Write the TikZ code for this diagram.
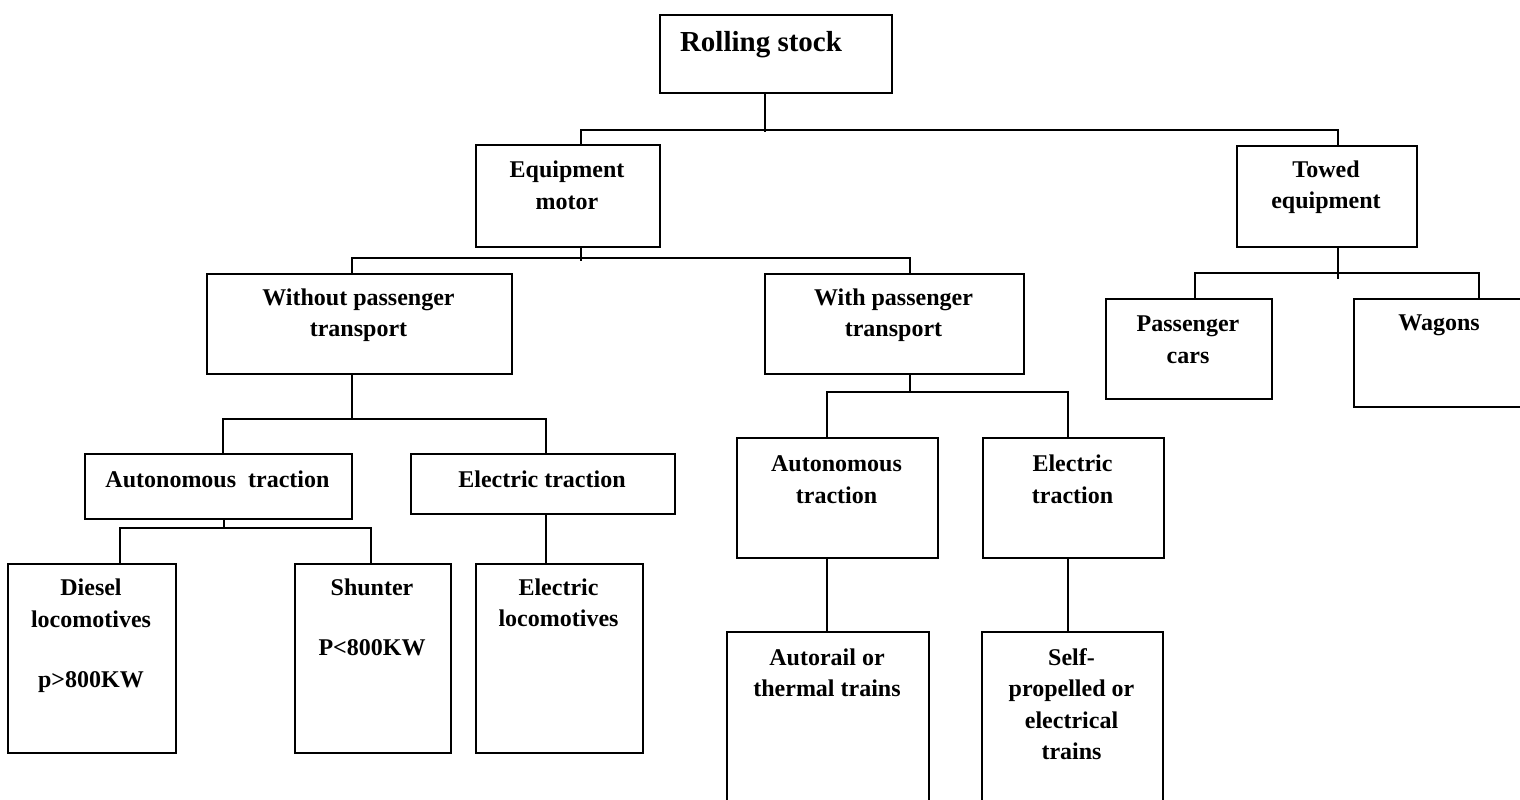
\documentclass[tikz,border=0pt]{standalone}
\usepackage{fontspec}
\setmainfont{Liberation Serif}
\begin{document}
\begin{tikzpicture}[x=1pt,y=-1pt,
  box/.style={draw, line width=2pt, rectangle, inner sep=0pt, anchor=north west},
  lbl/.style={inner sep=0pt, anchor=base, align=center, font=\fontsize{24}{31.5}\selectfont\bfseries},
  conn/.style={line width=2pt}]
\useasboundingbox (0,0) rectangle (1520,800);
\clip (0,0) rectangle (1520,800);
% boxes
\node[box, minimum width=232, minimum height=78] (rs) at (659,14) {};
\node[box, minimum width=184, minimum height=102] (em) at (475,144) {};
\node[box, minimum width=180, minimum height=101] (te) at (1236,145) {};
\node[box, minimum width=305, minimum height=100] (wo) at (206,273) {};
\node[box, minimum width=259, minimum height=100] (wi) at (764,273) {};
\node[box, minimum width=166, minimum height=100] (pc) at (1105,298) {};
\node[box, minimum width=172, minimum height=108] (wg) at (1353,298) {};
\node[box, minimum width=267, minimum height=65] (at1) at (84,453) {};
\node[box, minimum width=264, minimum height=60] (et1) at (410,453) {};
\node[box, minimum width=201, minimum height=120] (at2) at (736,437) {};
\node[box, minimum width=181, minimum height=120] (et2) at (982,437) {};
\node[box, minimum width=168, minimum height=189] (dl) at (7,563) {};
\node[box, minimum width=156, minimum height=189] (sh) at (294,563) {};
\node[box, minimum width=167, minimum height=189] (el) at (475,563) {};
\node[box, minimum width=202, minimum height=180] (ar) at (726,631) {};
\node[box, minimum width=181, minimum height=180] (sp) at (981,631) {};
% labels (anchor base = baseline of the last line)
\node[lbl, font=\fontsize{29}{35}\selectfont\bfseries] (rs-t) at (761,52) {Rolling stock};
\node[lbl] (em-t) at (567,209) {Equipment\\motor};
\node[lbl] (te-t) at (1326,208.5) {Towed\\equipment};
\node[lbl] (wo-t) at (358.5,336.5) {Without passenger\\transport};
\node[lbl] (wi-t) at (893.5,336.5) {With passenger\\transport};
\node[lbl] (pc-t) at (1188,363) {Passenger\\cars};
\node[lbl] (wg-t) at (1439,330) {Wagons};
\node[lbl] (at1-t) at (217.5,487) {Autonomous\ \ traction};
\node[lbl] (et1-t) at (542,487) {Electric traction};
\node[lbl] (at2-t) at (836.5,503) {Autonomous\\traction};
\node[lbl] (et2-t) at (1072.5,503) {Electric\\traction};
\node[lbl] (dl-t) at (91,687) {Diesel\\locomotives\\[28.5pt]p>800KW};
\node[lbl] (sh-t) at (372,655) {Shunter\\[28.5pt]P<800KW};
\node[lbl] (el-t) at (558.5,626.5) {Electric\\locomotives};
\node[lbl] (ar-t) at (827,696.5) {Autorail or\\thermal trains};
\node[lbl] (sp-t) at (1071.5,759.5) {Self-\\propelled or\\electrical\\trains};
% bus coordinates
\coordinate (b1) at (765,130);
\coordinate (b2) at (581,258);
\coordinate (b3) at (1338,273);
\coordinate (b4) at (352,419);
\coordinate (b5) at (910,392);
\coordinate (b6) at (224,528);
% connectors
\draw[conn] (rs.south -| b1) -- ([yshift=-2pt]b1);
\draw[conn] (em.north -| 581,0) |- (b1) -| (te.north -| b3);
\draw[conn] (em.south -| b2) -- ([yshift=-3pt]b2);
\draw[conn] (wo.north -| 352,0) |- (b2) -| (wi.north -| b5);
\draw[conn] (te.south -| b3) -- ([yshift=-6pt]b3);
\draw[conn] (pc.north -| 1195,0) |- (b3) -| (wg.north -| 1479,0);
\draw[conn] (wo.south -| b4) -- (b4);
\draw[conn] (at1.north -| 223,0) |- (b4) -| (et1.north -| 546,0);
\draw[conn] (wi.south -| b5) -- (b5);
\draw[conn] (at2.north -| 827,0) |- (b5) -| (et2.north -| 1068,0);
\draw[conn] (at1.south -| b6) -- (b6);
\draw[conn] (dl.north -| 120,0) |- (b6) -| (sh.north -| 371,0);
\draw[conn] (et1.south -| 546,0) -- (el.north -| 546,0);
\draw[conn] (at2.south -| 827,0) -- (ar.north -| 827,0);
\draw[conn] (et2.south -| 1068,0) -- (sp.north -| 1068,0);
\end{tikzpicture}
\end{document}
